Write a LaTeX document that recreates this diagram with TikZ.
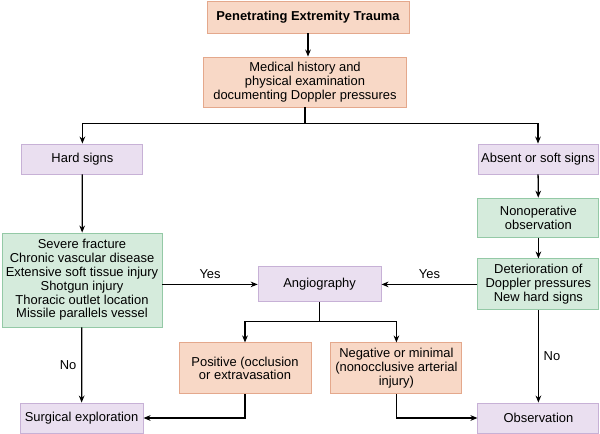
\documentclass[tikz,border=0pt]{standalone}
\usepackage{fontspec}
\setmainfont{Liberation Sans}
\usetikzlibrary{arrows.meta,calc}
\definecolor{orangefill}{HTML}{F8D8C6}
\definecolor{orangeline}{HTML}{E4A88C}
\definecolor{purplefill}{HTML}{EADFF0}
\definecolor{purpleline}{HTML}{C7B1D6}
\definecolor{greenfill}{HTML}{D5EBDC}
\definecolor{greenline}{HTML}{94C9A6}
\tikzset{
    box/.style={draw, line width=0.6pt, inner sep=2pt, align=center,
                font=\fontsize{9.2}{9.8}\selectfont},
    stepbox/.style={box, fill=orangefill, draw=orangeline},
    signbox/.style={box, fill=purplefill, draw=purpleline},
    testbox/.style={box, fill=greenfill, draw=greenline},
    flow/.style={-{Stealth[length=5pt,width=4pt]}, line width=0.9pt},
    note/.style={font=\fontsize{9.2}{9.8}\selectfont},
}

\begin{document}
\begin{tikzpicture}

    \useasboundingbox (0,0) rectangle (15,-10.85);

    \node[stepbox, minimum width=5.05cm, minimum height=0.8cm] (trauma) at (7.7,-0.425) {\textbf{Penetrating Extremity Trauma}};
    \node[stepbox, minimum width=5.075cm, minimum height=1.25cm] (history) at (7.625,-2.05) {Medical history and\\physical examination\\documenting Doppler pressures};
    \node[signbox, minimum width=3.025cm, minimum height=0.75cm] (hard) at (2.06,-3.975) {Hard signs};
    \node[signbox, minimum width=3.0cm, minimum height=0.75cm] (absent) at (13.45,-3.975) {Absent or soft signs};
    \node[testbox, minimum width=4.0cm, minimum height=2.35cm] (factors) at (2.05,-7.0) {Severe fracture\\Chronic vascular disease\\Extensive soft tissue injury\\Shotgun injury\\Thoracic outlet location\\Missile parallels vessel};
    \node[testbox, minimum width=3.025cm, minimum height=0.975cm] (nonop) at (13.46,-5.44) {Nonoperative\\observation};
    \node[testbox, minimum width=3.025cm, minimum height=1.275cm] (worse) at (13.46,-7.11) {Deterioration of\\Doppler pressures\\New hard signs};
    \node[signbox, minimum width=3.075cm, minimum height=0.875cm] (angio) at (7.99,-7.11) {Angiography};
    \node[stepbox, minimum width=3.3cm, minimum height=1.275cm] (positive) at (6.125,-9.21) {Positive (occlusion\\or extravasation};
    \node[stepbox, minimum width=3.275cm, minimum height=1.275cm] (negative) at (9.91,-9.21) {Negative or minimal\\(nonocclusive arterial\\injury)};
    \node[signbox, minimum width=3.075cm, minimum height=0.75cm] (surgery) at (2.04,-10.45) {Surgical exploration};
    \node[signbox, minimum width=3.025cm, minimum height=0.75cm] (observe) at (13.46,-10.45) {Observation};

    \draw[flow] (trauma) -- (trauma |- history.north);
    \draw[flow] (history.south) -- ++(0,-0.4) -| (hard);
    \draw[flow] (history.south) -- ++(0,-0.4) -| (absent);
    \draw[flow] (hard) -- (factors);
    \draw[flow] (absent) -- (nonop);
    \draw[flow] (nonop) -- (worse);
    \draw[flow] (factors.east |- angio) -- node[above,note] {Yes} (angio);
    \draw[flow] (worse.west |- angio) -- node[above,note] {Yes} (angio);
    \draw[flow] (factors) -- node[left,note] {No} (surgery);
    \draw[flow] (worse) -- node[right,note] {No} (observe);
    \draw[flow] (angio.south) -- ++(0,-0.475) -| (positive);
    \draw[flow] (angio.south) -- ++(0,-0.475) -| (negative);
    \draw[flow] (positive.south) |- (surgery);
    \draw[flow] (negative.south) |- (observe);

\end{tikzpicture}
\end{document}
